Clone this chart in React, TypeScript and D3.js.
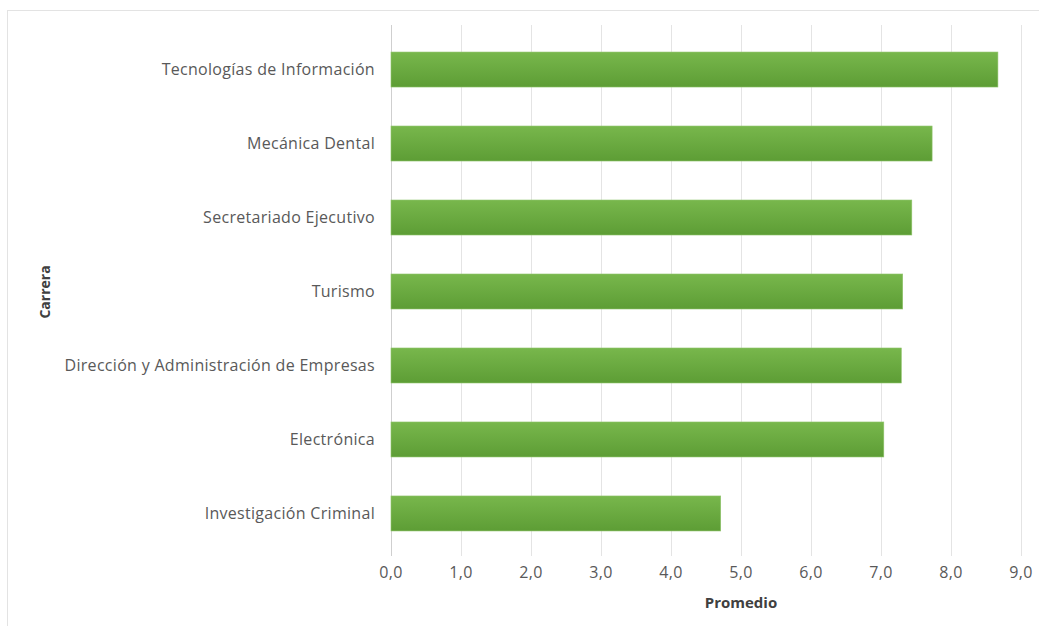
import React, { useRef, useEffect } from 'react';
import * as d3 from 'd3';

const carreras = [
  'Tecnologías de Información',
  'Mecánica Dental',
  'Secretariado Ejecutivo',
  'Turismo',
  'Dirección y Administración de Empresas',
  'Electrónica',
  'Investigación Criminal',
];
const promedios = [8.67, 7.73, 7.44, 7.31, 7.29, 7.04, 4.71];
const xTicks = [0, 1, 2, 3, 4, 5, 6, 7, 8, 9];

const WIDTH = 1039;
const HEIGHT = 626;
const FONT = '"Open Sans", "Noto Sans", sans-serif';

export default function App() {
  const svgRef = useRef<SVGSVGElement>(null);

  useEffect(() => {
    if (!svgRef.current) return;
    const svg = d3.select(svgRef.current);
    svg.selectAll('*').remove();

    // Frame
    svg.append('rect')
      .attr('x', 7.5)
      .attr('y', 10.5)
      .attr('width', WIDTH)
      .attr('height', HEIGHT)
      .attr('fill', '#fff')
      .attr('stroke', '#e3e3e3');

    // Gradient for bars
    const defs = svg.append('defs');
    const grad = defs.append('linearGradient')
      .attr('id', 'barGrad')
      .attr('x1', 0).attr('y1', 0).attr('x2', 0).attr('y2', 1);
    grad.append('stop').attr('offset', '0%').attr('stop-color', '#78b74c');
    grad.append('stop').attr('offset', '100%').attr('stop-color', '#5d9d35');

    // Scales
    const xScale = d3.scaleLinear().domain([0, 9]).range([391, 1021]);
    const yScale = d3.scaleBand<string>()
      .domain(carreras)
      .range([32.5, 550.5])
      .paddingInner(0.527)
      .paddingOuter(0.264);

    const gridTop = 25;
    const gridBottom = 556;

    // Grid lines
    svg.append('g')
      .selectAll('line')
      .data(xTicks)
      .enter().append('line')
      .attr('x1', d => Math.round(xScale(d)) + 0.5)
      .attr('x2', d => Math.round(xScale(d)) + 0.5)
      .attr('y1', gridTop)
      .attr('y2', gridBottom)
      .attr('stroke', d => (d === 0 ? '#cfcfcf' : '#e4e4e4'))
      .attr('stroke-width', 1);

    // Bars
    svg.append('g')
      .selectAll('rect')
      .data(carreras)
      .enter().append('rect')
      .attr('x', xScale(0))
      .attr('y', d => yScale(d) as number)
      .attr('width', (d, i) => xScale(promedios[i]) - xScale(0))
      .attr('height', yScale.bandwidth())
      .attr('fill', 'url(#barGrad)')
      .attr('stroke', '#8fc46b')
      .attr('stroke-width', 0.6);

    // Category labels
    svg.append('g')
      .selectAll('text')
      .data(carreras)
      .enter().append('text')
      .attr('x', 375)
      .attr('y', d => (yScale(d) as number) + yScale.bandwidth() / 2)
      .attr('dy', '0.35em')
      .attr('text-anchor', 'end')
      .attr('fill', '#595959')
      .style('font-family', FONT)
      .style('font-size', '16px')
      .style('letter-spacing', '0.3px')
      .text(d => d);

    // X tick labels
    const fmt = (v: number) => v.toFixed(1).replace('.', ',');
    svg.append('g')
      .selectAll('text')
      .data(xTicks)
      .enter().append('text')
      .attr('x', d => xScale(d))
      .attr('y', 572)
      .attr('dy', '0.35em')
      .attr('text-anchor', 'middle')
      .attr('fill', '#595959')
      .style('font-family', FONT)
      .style('font-size', '16px')
      .style('letter-spacing', '0.3px')
      .text(d => fmt(d));

    // Axis titles
    svg.append('text')
      .attr('x', 741)
      .attr('y', 603)
      .attr('dy', '0.35em')
      .attr('text-anchor', 'middle')
      .attr('fill', '#404040')
      .style('font-family', FONT)
      .style('font-size', '15px')
      .style('font-weight', 'bold')
      .text('Promedio');

    svg.append('text')
      .attr('transform', 'translate(45,292) rotate(-90)')
      .attr('dy', '0.35em')
      .attr('text-anchor', 'middle')
      .attr('fill', '#404040')
      .style('font-family', FONT)
      .style('font-size', '14px')
      .style('font-weight', 'bold')
      .text('Carrera');
  }, []);

  return (
    <svg
      ref={svgRef}
      width={WIDTH}
      height={HEIGHT}
      style={{ position: 'absolute', left: 0, top: 0, background: '#fff' }}
    />
  );
}
